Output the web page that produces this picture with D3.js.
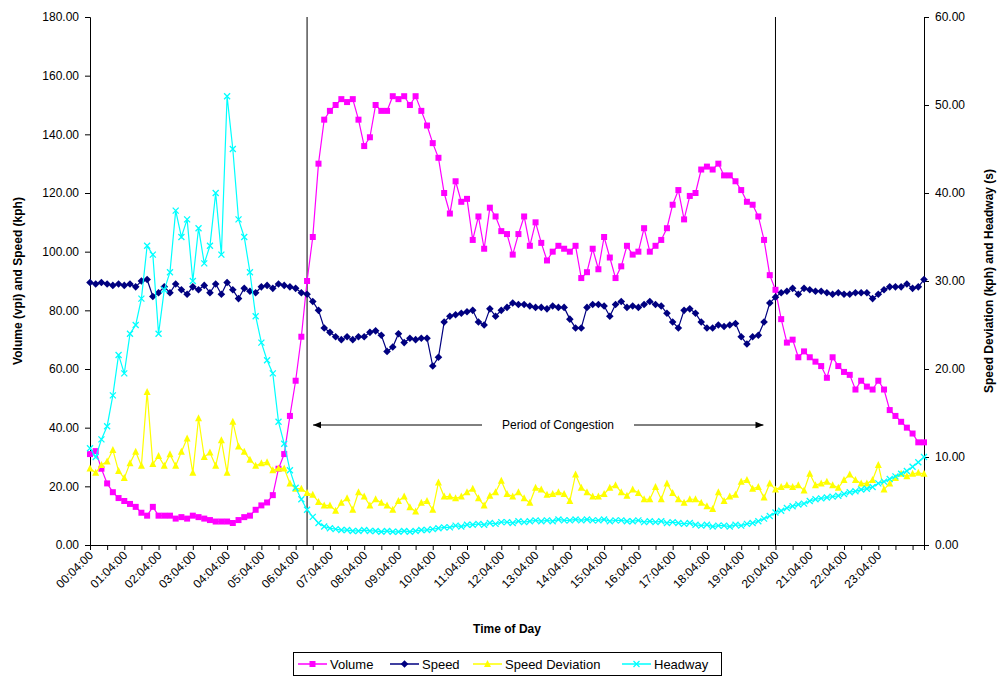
<!DOCTYPE html>
<html><head><meta charset="utf-8">
<script src="https://cdn.jsdelivr.net/npm/d3@7"></script>
<style>body{margin:0;background:#fff;font-family:"Liberation Sans",Arial,sans-serif;}</style>
</head><body><svg id="c" width="1001" height="677"></svg>
<script>
// minutes after 00:04:00, 10-minute samples
const volume = [31,32,26,21,18,16,15,14,13,11,10,13,10,10,10,9,9.5,9,10,9.5,9,8.5,8,8,
 8,7.5,8.5,9.5,10,12,13.5,14.5,17,26,31,44,56,71,90,105,130,145,148,150,152,151,152,145,
 136,139,150,148,148,153,152,153,150,153,148,143,137,132,120,113,124,117,118,104,112,101,115,112,
 107,106,99,106,112,102,110,103,97,100,102,101,100,102,91,93,101,94,105,98,91,95,102,
 99,100,108,100,102,104,108,116,121,111,119,120,128,129,128,130,126,126,124,121,117,116,112,104,92,87,77,69,70,64,66,64,62.5,61,57,64,61,59,58,53,56,54,53,56,53,46,44,42,40,38,35,35];
const speed = [89.5,89,89.5,89,88.5,89,88.5,89,88,90,90.5,84.7,86,88,86,89,87,85.5,88,87,88.5,86,89,85.5,
 89.5,87,84,87.5,86.5,86,88,88.5,87.5,89,88.5,88,87.5,86,85.5,83,80,74,72.5,71,70,71,70,71,
 71,72.5,73,71.5,66,67.5,72,69,70.5,70,70.5,70.5,61,64,76,78,78.5,79,79.5,80,76,75,80.5,78,
 80,81,82.5,82,82,81.5,81,81,80.5,81.5,81,81,77,74,74,81,82,82,81.5,78,82,83,81,
 81.5,81,82,83,82,81.5,79,76,74,80,80.5,79,76,74,74,75,74.5,75,75.5,71,68.5,71,71.5,76,82.5,84.5,86,86.5,87.5,85.5,87.5,87,86.5,86.5,86,85.5,86,85.5,85.5,86,86,86,84,85.5,87,88,88,88,89,87.5,88,90.5];
const speedDev = [8.7,8.2,9.1,9.5,10.8,8.4,7.6,9.3,10.6,9,17.4,9.2,10.1,9,10.3,9,10.6,12.1,8.2,14.4,10,10.5,9,11.9,8.2,14,
 11.2,10.6,9.7,9,9.3,9.4,8.5,8.7,8.7,7,6.4,6.4,5.9,5.7,4.9,4.5,4.5,3.9,4.8,5.3,4,6,
 5.5,4.5,5.2,4.8,4.5,4,5,5.5,4.3,3.8,4.8,5,4,7.1,5.5,5.5,5.3,5.5,6,6.4,5.3,4.5,5.6,6,7.3,
 5.8,5.5,6,5.3,4.8,6.5,6.3,5.7,5.8,6,5.8,5,8,6.5,6,5.5,5.5,5.8,6.5,6.8,6,5.6,
 6.3,5.9,5.2,5.2,6.6,5.2,7,5.9,5.2,4.8,5.2,5.2,4.8,4.4,4.1,6,5,5.5,5.7,7.2,7.4,6.4,6.6,5.4,7,6.3,6.6,6.8,6.6,6.8,6.2,8.1,6.8,7,7.2,6.8,6.5,7.4,8,7.4,7,7,7.4,9.1,6.3,7,7.6,8.1,7.8,8.1,8.2,8.1];
const headway = [11,10,12,13.5,17,21.6,19.5,24,25,28,34,33,24,29,31,38,35,37,30,36,32,34,40,33,
 51,45,37,35,31,26,23,21,19.5,14,11.5,8.5,6.5,5.2,4,3.2,2.5,2.1,1.9,1.8,1.7,
 1.7,1.6,1.6,1.7,1.6,1.6,1.5,1.6,1.5,1.5,1.6,1.5,1.6,1.7,1.7,1.8,1.9,2.0,2.0,2.2,2.1,2.3,2.3,2.4,2.3,2.5,2.4,2.6,2.6,2.5,
 2.7,2.6,2.7,2.8,2.7,2.8,2.7,2.9,2.8,2.8,2.9,2.8,2.9,2.8,2.8,2.9,2.7,2.8,2.8,2.7,
 2.7,2.8,2.6,2.7,2.6,2.7,2.5,2.6,2.5,2.4,2.5,2.3,2.2,2.3,2.1,2.2,2.2,2.1,2.3,2.2,2.4,2.5,2.7,3.0,3.3,3.7,3.9,4.2,4.4,4.6,
 4.7,5.0,5.2,5.3,5.4,5.5,5.6,5.8,6.0,6.1,6.3,6.4,6.6,7.0,7.2,7.5,7.8,8.1,8.4,8.9,9.4,10.0];
const tickLabels = ["00:04:00","01:04:00","02:04:00","03:04:00","04:04:00","05:04:00","06:04:00","07:04:00","08:04:00","09:04:00","10:04:00","11:04:00","12:04:00","13:04:00","14:04:00","15:04:00","16:04:00","17:04:00","18:04:00","19:04:00","20:04:00","21:04:00","22:04:00","23:04:00"];
const leftTicks = [0,20,40,60,80,100,120,140,160,180];
const rightTicks = [0,10,20,30,40,50,60];
const congestion = [380, 1200]; // minutes after 00:04

const svg = d3.select("#c");
const L=90,R=924,T=17,B=545;
const x = d3.scaleLinear().domain([0,1460]).range([L,R]);
const yL = d3.scaleLinear().domain([0,180]).range([B,T]);
const yR = d3.scaleLinear().domain([0,60]).range([B,T]);
const font='"Liberation Sans",Arial,sans-serif';

// axes
const ax = svg.append("g").attr("transform",`translate(${L},0)`).call(d3.axisLeft(yL).tickValues(leftTicks).tickFormat(d3.format(".2f")).tickSizeOuter(0).tickSize(5));
const ar = svg.append("g").attr("transform",`translate(${R},0)`).call(d3.axisRight(yR).tickValues(rightTicks).tickFormat(d3.format(".2f")).tickSizeOuter(0).tickSize(5));
const xb = svg.append("g").attr("transform",`translate(0,${B})`).call(d3.axisBottom(x).tickValues(d3.range(0,1461,30)).tickFormat("").tickSizeOuter(0).tickSize(5));
[ax,ar,xb].forEach(g=>{g.selectAll("path,line").attr("stroke","#000");g.selectAll("text").attr("font-family",font).attr("font-size",12).attr("fill","#000");});
ax.selectAll("text").attr("dx",-3);
ar.selectAll("text").attr("dx",3);
tickLabels.forEach((t,i)=>{
  const px=x(i*60);
  svg.append("text").attr("transform",`translate(${px+4},${B+11}) rotate(-45)`).attr("text-anchor","end")
   .attr("font-family",font).attr("font-size",12).text(t);
});

// titles
svg.append("text").attr("transform",`translate(22,${(T+B)/2}) rotate(-90)`).attr("text-anchor","middle").attr("font-weight","bold").attr("font-size",12).attr("font-family",font).text("Volume (vpi) and Speed (kph)");
svg.append("text").attr("transform",`translate(993,${(T+B)/2}) rotate(-90)`).attr("text-anchor","middle").attr("font-weight","bold").attr("font-size",12).attr("font-family",font).text("Speed Deviation (kph) and Headway (s)");
svg.append("text").attr("x",507).attr("y",633).attr("text-anchor","middle").attr("font-weight","bold").attr("font-size",12).attr("font-family",font).text("Time of Day");

// congestion markers
congestion.forEach(m=>svg.append("line").attr("x1",x(m)).attr("x2",x(m)).attr("y1",T).attr("y2",B).attr("stroke","#000").attr("stroke-width",1));
svg.append("defs").append("marker").attr("id","ah").attr("viewBox","0 0 10 10").attr("refX",10).attr("refY",5)
 .attr("markerWidth",8).attr("markerHeight",8).attr("orient","auto-start-reverse").append("path").attr("d","M0,1L10,5L0,9z").attr("fill","#000");
const ay = yL(40)+ (yL(0)-yL(40))*0 + 0;
const arrowY = 425;
svg.append("line").attr("x1",x(congestion[0])+6).attr("x2",482).attr("y1",arrowY).attr("y2",arrowY).attr("stroke","#000").attr("marker-start","url(#ah)");
svg.append("line").attr("x1",634).attr("x2",x(congestion[1])-12).attr("y1",arrowY).attr("y2",arrowY).attr("stroke","#000").attr("marker-end","url(#ah)");
svg.append("text").attr("x",558).attr("y",arrowY+4).attr("text-anchor","middle").attr("font-size",12).attr("font-family",font).text("Period of Congestion");

// series
const series = [
 {name:"Volume",data:volume,y:yL,color:"#FF00FF",sym:"square"},
 {name:"Speed",data:speed,y:yL,color:"#000080",sym:"diamond"},
 {name:"Speed Deviation",data:speedDev,y:yR,color:"#FFFF00",sym:"triangle"},
 {name:"Headway",data:headway,y:yR,color:"#00FFFF",sym:"x"}
];
function drawSym(g,sym,color,px,py){
  if(sym==="square") g.append("rect").attr("x",px-3).attr("y",py-3).attr("width",6).attr("height",6).attr("fill",color);
  else if(sym==="diamond") g.append("path").attr("d",`M${px},${py-3.8}L${px+3.8},${py}L${px},${py+3.8}L${px-3.8},${py}Z`).attr("fill",color);
  else if(sym==="triangle") g.append("path").attr("d",`M${px},${py-4}L${px+3.5},${py+3}L${px-3.5},${py+3}Z`).attr("fill",color);
  else g.append("path").attr("d",`M${px-3},${py-3}L${px+3},${py+3}M${px-3},${py+3}L${px+3},${py-3}`).attr("stroke",color).attr("stroke-width",1.3);
}
series.forEach(s=>{
  const pts = s.data.map((v,i)=>[x(i*10), s.y(v)]);
  const g = svg.append("g");
  g.append("path").attr("d",d3.line()(pts)).attr("fill","none").attr("stroke",s.color).attr("stroke-width",1.2);
  pts.forEach(p=>drawSym(g,s.sym,s.color,p[0],p[1]));
});

// legend
const lg = svg.append("g");
lg.append("rect").attr("x",293.5).attr("y",652.5).attr("width",428).attr("height",23).attr("fill","#fff").attr("stroke","#000");
const items=[{s:series[0],lx:298,tx:330},{s:series[1],lx:390,tx:422},{s:series[2],lx:473,tx:505},{s:series[3],lx:622,tx:654}];
items.forEach(it=>{
  lg.append("line").attr("x1",it.lx).attr("x2",it.lx+29).attr("y1",664).attr("y2",664).attr("stroke",it.s.color).attr("stroke-width",1.5);
  drawSym(lg,it.s.sym,it.s.color,it.lx+14.5,664);
  lg.append("text").attr("x",it.tx).attr("y",668.5).attr("font-size",13).attr("font-family",font).text(it.s.name);
});
</script></body></html>
